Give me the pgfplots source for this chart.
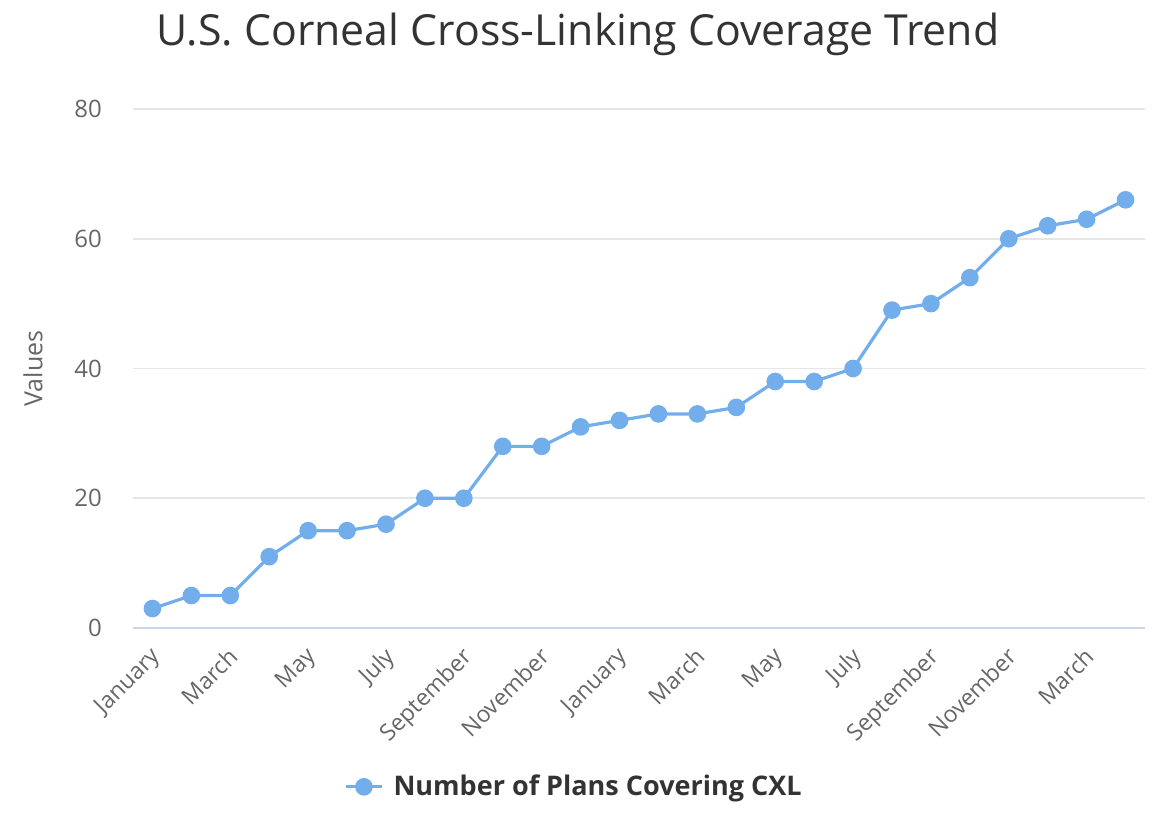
\documentclass[border=0pt]{standalone}
\usepackage{fontspec}
\setmainfont{Open Sans}
\usepackage{pgfplots}
\pgfplotsset{compat=1.18}
\definecolor{ser}{HTML}{72AEEB}
\definecolor{gridc}{HTML}{E6E6E6}
\definecolor{axc}{HTML}{CCD6EB}
\definecolor{lab}{HTML}{666666}
\definecolor{ttl}{HTML}{333333}
\begin{document}
\begin{tikzpicture}
\begin{axis}[
  at={(0,0)}, anchor=south west,
  scale only axis, width=506pt, height=259.5pt,
  xmin=-0.5, xmax=25.5, ymin=0, ymax=80,
  ytick={0,20,40,60,80},
  xtick={0,2,...,24},
  xticklabels={January,March,May,July,September,November,January,March,May,July,September,November,March},
  axis line style={draw=none},
  x axis line style={draw=none},
  ymajorgrids, grid style={gridc, line width=0.8pt},
  major tick length=0pt,
  tick style={draw=none},
  /pgf/number format/assume math mode=true,
  yticklabel style={font=\fontsize{12}{14}\selectfont, text=lab, xshift=-12pt},
  xticklabel style={font=\fontsize{11.5}{14}\selectfont, text=lab, xshift=-1.5pt, yshift=-4pt, rotate=45, anchor=north east},
  ylabel={Values}, ylabel style={font=\fontsize{12.5}{15}\selectfont, text=lab, at={(axis description cs:-0.0988,0.5)}, anchor=center},
  every axis title shift=0pt,
  title={U.S. Corneal Cross-Linking Coverage Trend},
  title style={font=\fontsize{21.4}{25}\selectfont, text=ttl, at={(axis description cs:0.4397,1.1233)}, anchor=base},
  legend style={at={(0.4397,-0.306)}, anchor=center, draw=none, font=\bfseries\fontsize{13.5}{15}\selectfont, text=ttl, nodes={inner xsep=5pt}},
  legend image code/.code={\draw[mark repeat=2,mark phase=2,#1] plot coordinates {(0pt,0pt) (9pt,0pt) (18pt,0pt)};},
  clip=false,
]
\draw[axc, line width=1pt] (axis cs:-0.5,0) -- (axis cs:25.5,0);
\addplot[ser, line width=1.6pt, mark=*, mark size=3.6pt, mark options={draw=ser, fill=ser}] coordinates {
(0,3) (1,5) (2,5) (3,11) (4,15) (5,15) (6,16) (7,20) (8,20) (9,28) (10,28) (11,31) (12,32) (13,33) (14,33) (15,34) (16,38) (17,38) (18,40) (19,49) (20,50) (21,54) (22,60) (23,62) (24,63) (25,66)
};
\addlegendentry{Number of Plans Covering CXL}
\end{axis}
\pgfresetboundingbox
\useasboundingbox (-66.5pt,-101pt) rectangle (511.5pt,314pt);
\end{tikzpicture}
\end{document}
